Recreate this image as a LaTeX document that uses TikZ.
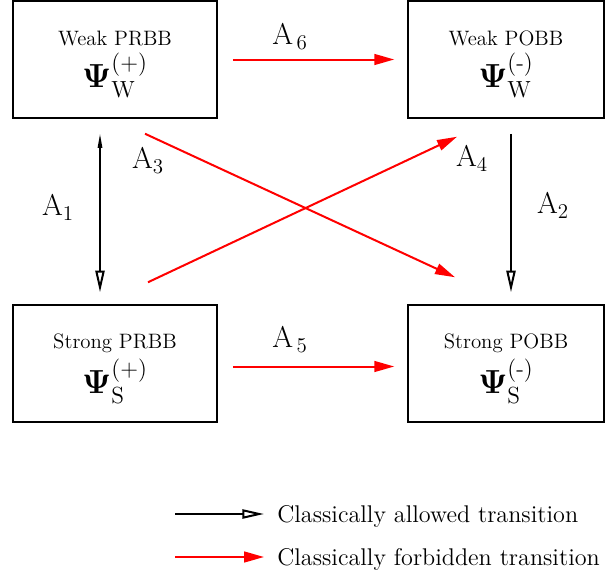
\RequirePackage{fix-cm}
\documentclass[tikz,border=0pt]{standalone}
\usepackage{amsmath,amssymb}
\usepackage{tikz}
\usetikzlibrary{calc,arrows.meta}
\usepackage{xcolor}

\tikzset{
  bbox/.style={draw, line width=0.9pt, minimum height=70.2pt},
  btext/.style={align=center, font=\fontsize{12.5}{14}\selectfont},
  allow/.style={line width=1.2pt, -{Triangle[open,length=13pt,width=5.5pt]}},
  forbid/.style={red, line width=1.2pt, -{Triangle[length=12pt,width=6.5pt]}},
  amp/.style={font=\fontsize{18}{20}\selectfont},
  keytext/.style={anchor=base west, inner sep=0pt, font=\fontsize{14.5}{16}\selectfont}
}
\newcommand{\wavef}[2]{\fontsize{20}{22}\selectfont$\boldsymbol{\Psi}_{\mathrm{#1}}^{(\text{#2})}$}

\begin{document}
\begin{tikzpicture}[x=0.6pt,y=-0.6pt]
\useasboundingbox (0,0) rectangle (605,577);

% the four states
\node [bbox, minimum width=122.4pt] (wprbb) at (115,59.5) {};
\node [bbox, minimum width=117.6pt] (wpobb) at (506,59.5) {};
\node [bbox, minimum width=122.4pt] (sprbb) at (115,363.5) {};
\node [bbox, minimum width=117.6pt] (spobb) at (506,363.5) {};
\node [btext] (wprbbtxt) at ($(wprbb)+(0,5)$) {Weak PRBB\\[3pt] \wavef{W}{+}};
\node [btext] (wpobbtxt) at ($(wpobb)+(0,5)$) {Weak POBB\\[3pt] \wavef{W}{-}};
\node [btext] (sprbbtxt) at ($(sprbb)+(0,5)$) {Strong PRBB\\[3pt] \wavef{S}{+}};
\node [btext] (spobbtxt) at ($(spobb)+(0,5)$) {Strong POBB\\[3pt] \wavef{S}{-}};

% allowed transitions
\draw [line width=1.2pt, {Triangle[open,length=9pt,width=2.5pt]}-{Triangle[open,length=13pt,width=5.5pt]}] ($(wprbb.south)+(-15,14)$) -- ($(sprbb.north)+(-15,-12)$);
\draw [allow] ($(wpobb.south)+(5,15)$) -- ($(spobb.north)+(5,-12)$);

% forbidden transitions
\draw [forbid] ($(wprbb.east)+(15,0)$) -- ($(wpobb.west)+(-13,0)$);
\draw [forbid] ($(sprbb.east)+(15,3)$) -- ($(spobb.west)+(-13,3)$);
\draw [forbid] ($(wprbb.south)+(30,15)$) -- ($(spobb.north)+(-51,-27)$);
\draw [forbid] ($(sprbb.north)+(33,-22)$) -- ($(wpobb.south)+(-49,18)$);

% amplitudes
\node [amp] (a1) at (58,208) {$\mathrm{A}_1$};
\node [amp] (a2) at (553,206) {$\mathrm{A}_2$};
\node [amp] (a3) at (148,161) {$\mathrm{A}_3$};
\node [amp] (a4) at (472,159) {$\mathrm{A}_4$};
\node [amp] (a5) at (290,340) {$\mathrm{A}_{\,5}$};
\node [amp] (a6) at (290,37) {$\mathrm{A}_{\,6}$};

% key
\coordinate (allowa) at (175,514);
\coordinate (allowb) at (264,514);
\coordinate (forbida) at (175,557);
\coordinate (forbidb) at (264,557);
\draw [allow] (allowa) -- (allowb);
\draw [forbid] (forbida) -- (forbidb);
\node [keytext] (allowtxt) at (277,522) {Classically allowed transition};
\node [keytext] (forbidtxt) at (277,565) {Classically forbidden transition};
\end{tikzpicture}
\end{document}
